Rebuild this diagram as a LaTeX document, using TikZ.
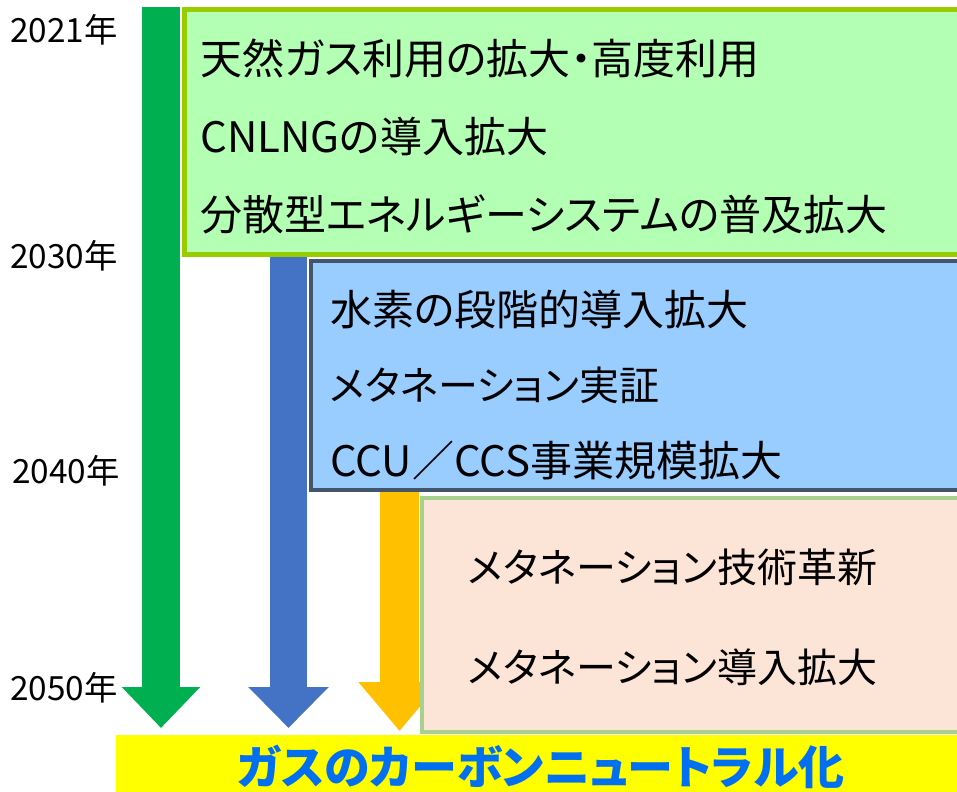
\documentclass[tikz,border=0pt]{standalone}
\usepackage{fontspec}
\setmainfont{Noto Sans CJK JP}[RawFeature=+palt]
\usetikzlibrary{positioning}
\usetikzlibrary{arrows.meta}
\definecolor{arrgreen}{HTML}{00B050}
\definecolor{arrblue}{HTML}{4472C4}
\definecolor{arrorange}{HTML}{FFC000}
\definecolor{fillgreen}{HTML}{B3FFB3}
\definecolor{bordgreen}{HTML}{99CC00}
\definecolor{fillblue}{HTML}{99CCFF}
\definecolor{bordblue}{HTML}{44546A}
\definecolor{fillpeach}{HTML}{FCE4D6}
\definecolor{bordpeach}{HTML}{A9D18E}
\definecolor{bandyellow}{HTML}{FFFF00}
\definecolor{bandtext}{HTML}{0070F0}
\tikzset{
    yearlbl/.style = {anchor=west, inner sep=0pt, font=\fontsize{25}{25}\selectfont},
    itemtxt/.style = {anchor=west, inner sep=0pt, font=\fontsize{31.5}{31.5}\selectfont},
    itemtxtk/.style = {itemtxt, font=\fontsize{30}{30}\selectfont}, % katakana lines
    phasebox/.style = {rectangle, anchor=north west, inner sep=0pt, line width=3pt},
    boxg/.style = {phasebox, draw=bordgreen, fill=fillgreen, line width=3.75pt},
    boxb/.style = {phasebox, draw=bordblue, fill=fillblue},
    boxp/.style = {phasebox, draw=bordpeach, fill=fillpeach},
    banner/.style = {rectangle, anchor=north west, inner sep=0pt, fill=bandyellow},
    arrg/.style = {draw=arrgreen, line width=28.5pt, -{Triangle[length=30.75pt,width=57pt]}},
    arrb/.style = {draw=arrblue, line width=27.75pt, -{Triangle[length=30.75pt,width=58.5pt]}},
    arro/.style = {draw=arrorange, line width=29.25pt, -{Triangle[length=36.75pt,width=59.25pt]}}
}

\begin{document}
\begin{tikzpicture}[x=0.75pt,y=-0.75pt]
\useasboundingbox (0,0) rectangle (957,792);
\clip (0,0) rectangle (957,792);
% years
\node[yearlbl] (y2021) at (10,30) {2021年};
\node[yearlbl] (y2030) at (10,256) {2030年};
\node[yearlbl] (y2040) at (12,471) {2040年};
\node[yearlbl] (y2050) at (10,688) {2050年};
% arrows
\coordinate (g0) at (161,7);
\coordinate (g1) at (161,728);
\coordinate (b0) at (288.5,256);
\coordinate (b1) at (288.5,728);
\coordinate (o0) at (399.5,490);
\coordinate (o1) at (399.5,731);
\draw[arrg] (g0) -- (g1);
\draw[arrb] (b0) -- (b1);
\draw[arro] (o0) -- (o1);
% phase boxes
\node[boxg, minimum width=585.4pt, minimum height=183.4pt] (gbox) at (181.5,7.5) {};
\node[boxb, minimum width=489.75pt, minimum height=171.4pt] (bbox) at (309,259) {};
\node[boxp, minimum width=406.9pt, minimum height=175.5pt] (pbox) at (419.5,495.5) {};
%
\node[itemtxt] (g1t) at (200,58) {天然ガス利用の拡大・高度利用};
\node[itemtxt] (g2t) at (200,136) {CNLNGの導入拡大};
\node[itemtxt] (g3t) at (200,214) {分散型エネルギーシステムの普及拡大};
\node[itemtxt] (b1t) at (330,309) {水素の段階的導入拡大};
\node[itemtxtk] (b2t) at (330,385) {メタネーション実証};
\node[itemtxt] (b3t) at (330,461) {CCU／CCS事業規模拡大};
\node[itemtxtk] (p1t) at (468,567) {メタネーション技術革新};
\node[itemtxtk] (p2t) at (468,667) {メタネーション導入拡大};
% goal
\node[banner, minimum width=634.5pt, minimum height=42.75pt] (goal) at (116,735) {};
\node[font=\fontsize{34.5}{34.5}\selectfont\bfseries, text=bandtext, inner sep=0pt] (goaltxt) at (541,767) {ガスのカーボンニュートラル化};
\end{tikzpicture}
\end{document}
